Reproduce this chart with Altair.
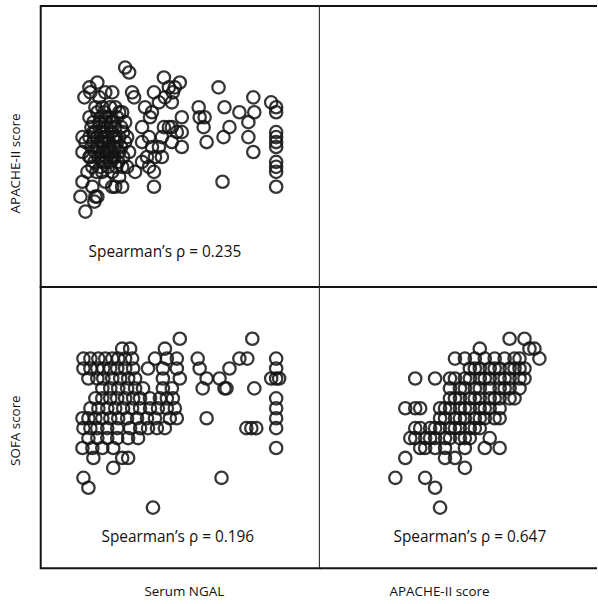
import altair as alt
import pandas as pd

FONT = "Open Sans"
INK = "#141414"

# ---- Top-left panel: Serum NGAL (x) vs APACHE-II score (y) ----
tl_ngal = [340, 356, 196, 228, 176, 200, 260, 288, 236, 368, 376, 456, 496, 516, 540, 476, 500, 528,
           420, 448, 440, 220, 256, 300, 328, 516, 496, 528, 548, 488, 528, 168, 180, 168, 196, 408,
           436, 408, 448, 476, 460, 428, 488, 408, 436, 456, 380, 348, 188, 248, 288, 316, 260, 300,
           328, 168, 208, 160, 228, 216, 220, 456, 180, 288, 560, 532,
           716, 740, 636, 660, 640, 656, 668, 760, 736, 800, 856, 860, 836, 836, 856, 928, 948, 948,
           948, 948, 948, 948, 948, 948, 948, 948, 732, 568, 568, 568,
           196, 212, 228, 244, 260, 276, 292, 308, 324, 340,
           204, 220, 236, 252, 268, 284, 300, 316, 332, 348,
           196, 212, 228, 244, 260, 276, 292, 308, 324, 340,
           204, 220, 236, 252, 268, 284, 300, 316, 332, 356,
           200, 216, 232, 248, 264, 280, 296, 312, 328,
           208, 224, 240, 256, 272, 288, 304,
           236, 252, 268, 284, 260, 244, 276, 228, 292, 212, 300, 264, 248, 280, 316]
tl_apache = [32, 31, 28, 29, 26, 27, 27, 27, 26, 27, 26, 27, 30, 28, 28, 25, 26, 25,
             24, 23, 22, 24, 23, 24, 23, 20, 20, 20, 19, 18, 17, 18, 17, 15, 14, 20,
             18, 17, 16, 16, 14, 14, 14, 13, 12, 11, 11, 12, 11, 11, 11, 10, 9, 8,
             8, 9, 8, 6, 6, 5, 6, 8, 3, 8, 29, 27,
             28, 24, 24, 22, 22, 20, 17, 20, 18, 23, 26, 23, 21, 18, 15, 25, 24, 23,
             19, 18, 17, 16, 13, 12, 11, 8, 9, 22, 19, 16,
             22, 21, 23, 22, 21, 22, 21, 22, 20, 21,
             20, 19, 20, 19, 20, 19, 20, 18, 19, 18,
             18, 17, 18, 17, 18, 17, 18, 17, 16, 17,
             16, 15, 16, 15, 16, 15, 16, 15, 14, 15,
             14, 13, 14, 13, 14, 13, 14, 13, 12,
             12, 11, 12, 13, 12, 14, 12,
             21, 17, 18, 21, 15, 19, 15, 16, 16, 19, 18, 22, 24, 24, 23]

# ---- Bottom-left panel: Serum NGAL (x) by SOFA score (rows) ----
bl_sofa_levels = [18, 17, 16, 15, 14, 13, 12, 11, 10, 9, 8, 7, 6, 5, 4, 3, 1]
bl_ngal_rows = [
    [560, 852],
    [328, 360, 500],
    [172, 200, 232, 260, 288, 312, 340, 368, 460, 508, 548, 632, 800, 832, 948],
    [172, 200, 228, 252, 280, 308, 340, 372, 432, 492, 548, 640, 760, 948],
    [192, 228, 252, 288, 320, 352, 380, 492, 560, 668, 720, 928, 948, 960],
    [248, 280, 312, 348, 380, 412, 492, 528, 652, 740, 748, 860],
    [220, 248, 280, 308, 340, 372, 400, 440, 480, 508, 532, 948],
    [200, 232, 268, 300, 332, 368, 400, 440, 472, 508, 540, 948],
    [168, 192, 220, 248, 280, 312, 348, 388, 428, 460, 520, 548, 668, 948],
    [172, 200, 228, 268, 308, 360, 400, 432, 468, 500, 828, 848, 868, 948],
    [192, 228, 268, 308, 352, 392],
    [168, 208, 248, 292, 948],
    [212, 328, 352],
    [292],
    [172, 728],
    [192],
    [452],
]

# ---- Bottom-right panel: APACHE-II score (x) by SOFA score (rows) ----
br_sofa_levels = [18, 17, 16, 15, 14, 13, 12, 11, 10, 9, 8, 7, 6, 5, 4, 3, 1]
br_apache_rows = [
    [26, 29],
    [20, 30, 31],
    [15, 17, 19, 21, 23, 25, 27, 28, 32],
    [18, 19, 20, 22, 23, 24, 26, 27, 28, 29],
    [7, 11, 14, 15, 17, 18, 20, 21, 22, 24, 25, 26, 28, 29],
    [14, 16, 17, 19, 20, 22, 24, 25, 26, 28],
    [14, 15, 16, 18, 19, 20, 22, 23, 24, 26, 27],
    [5, 7, 8, 12, 13, 14, 16, 17, 18, 20, 21, 22, 24],
    [12, 13, 15, 16, 17, 19, 20, 21, 23, 24],
    [7, 8, 10, 11, 12, 14, 15, 16, 18, 19, 20],
    [6, 7, 9, 10, 11, 13, 14, 16, 17, 18, 22],
    [8, 9, 11, 13, 17, 21, 24],
    [5, 13, 15],
    [17],
    [3, 9],
    [11],
    [12],
]

labels = ["Spearman\u2019s \u03c1 = 0.235", "Spearman\u2019s \u03c1 = 0.196", "Spearman\u2019s \u03c1 = 0.647"]
row_titles = ["APACHE-II score", "SOFA score"]
col_titles = ["Serum NGAL", "APACHE-II score"]

tl_df = pd.DataFrame({"x": tl_ngal, "y": tl_apache})
bl_df = pd.DataFrame([{"x": v, "y": s} for s, row in zip(bl_sofa_levels, bl_ngal_rows) for v in row])
br_df = pd.DataFrame([{"x": v, "y": s} for s, row in zip(br_sofa_levels, br_apache_rows) for v in row])

NGAL_DOM = [0, 1124]
APACHE_DOM_Y = [-12.2, 44.4]
APACHE_DOM_X = [-12.2, 43.2]
SOFA_DOM = [-5.1, 23.2]

LW, RW, H = 281, 277, 283
VIEW_BOX = alt.ViewBackground(stroke=INK, strokeWidth=2, fill="white")
VIEW_OPEN = alt.ViewBackground(stroke="transparent", strokeWidth=0, fill="white")


def x_axis(title, title_x):
    return alt.Axis(title=title, labels=False, ticks=False, domain=False, grid=False,
                    titleFont=FONT, titleFontSize=13.5, titleFontWeight="normal", titleColor="#111",
                    titlePadding=16, titleX=title_x)


def y_axis(title, title_y):
    return alt.Axis(title=title, labels=False, ticks=False, domain=False, grid=False,
                    titleFont=FONT, titleFontSize=13.5, titleFontWeight="normal", titleColor="#111",
                    titlePadding=18, titleY=title_y)


def edge(y_px, w):
    return alt.Chart(pd.DataFrame({"e": [0]})).mark_rule(color=INK, strokeWidth=2).encode(
        x=alt.value(0), x2=alt.value(w + 2), y=alt.value(y_px)
    )


def panel(df, xdom, ydom, xaxis, yaxis, label, lx, ly, w, view, extra=()):
    pts = alt.Chart(df).mark_point(
        shape="circle", filled=False, size=155, strokeWidth=2.3, color=INK, opacity=0.85
    ).encode(
        x=alt.X("x:Q", scale=alt.Scale(domain=xdom, nice=False, zero=False), axis=xaxis),
        y=alt.Y("y:Q", scale=alt.Scale(domain=ydom, nice=False, zero=False), axis=yaxis),
    )
    txt = alt.Chart(pd.DataFrame({"t": [label]})).mark_text(
        font=FONT, fontSize=15.5, color="#111", align="center", baseline="middle"
    ).encode(text="t:N", x=alt.value(lx), y=alt.value(ly))
    return alt.layer(pts, txt, *extra).properties(width=w, height=H, view=view)


tl = panel(tl_df, NGAL_DOM, APACHE_DOM_Y, None, y_axis(row_titles[0], 158), labels[0], 125, 248,
           LW, VIEW_BOX)
bl = panel(bl_df, NGAL_DOM, SOFA_DOM, x_axis(col_titles[0], 144), y_axis(row_titles[1], 144),
           labels[1], 138, 252, LW, VIEW_BOX)
br = panel(br_df, APACHE_DOM_X, SOFA_DOM, x_axis(col_titles[1], 120), None, labels[2], 151, 252,
           RW, VIEW_OPEN, extra=(edge(0, RW), edge(H, RW)))

tr = alt.layer(edge(0, RW), edge(H, RW)).properties(width=RW, height=H, view=VIEW_OPEN)

chart = alt.concat(tl, tr, bl, br, columns=2, spacing=0, bounds="flush").properties(
    padding={"left": 8, "top": 3, "right": 0, "bottom": 0}
).configure_view(stroke=INK, strokeWidth=2).configure(background="white")

chart.save("out.html", embed_options={"renderer": "svg", "actions": False})
